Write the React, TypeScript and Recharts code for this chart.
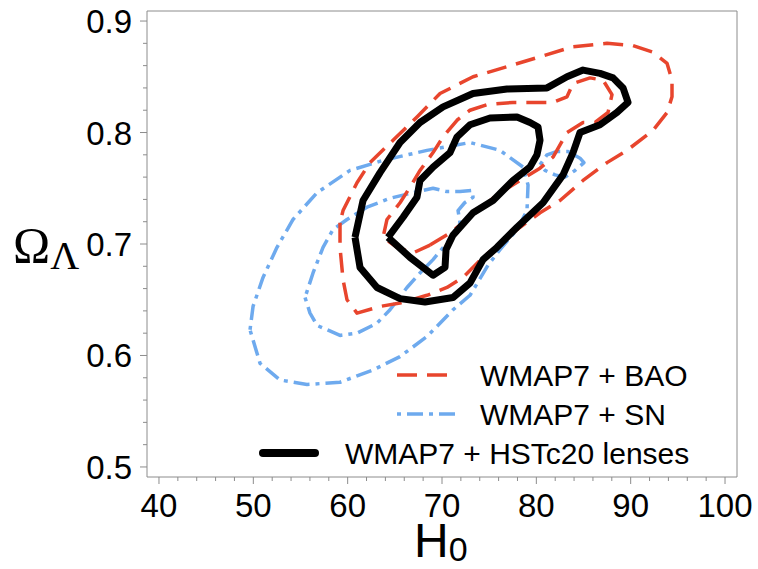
import React from "react";
import { ReferenceArea, Scatter, ScatterChart, XAxis, YAxis } from "recharts";

// contour vertices: [H0, Omega_Lambda]
const BAO_OUTER = [
  [59.19, 0.719], [59.19, 0.697], [59.51, 0.668], [59.93, 0.65], [60.99, 0.638], [63.43, 0.644],
  [65.55, 0.647], [68.41, 0.654], [70.53, 0.661], [72.23, 0.67], [74.35, 0.688], [77.95, 0.713],
  [80.39, 0.728], [82.51, 0.739], [84.95, 0.757], [87.49, 0.773], [89.61, 0.784], [92.37, 0.802],
  [93.86, 0.818], [94.38, 0.832], [94.38, 0.847], [93.86, 0.862], [92.37, 0.872], [90.25, 0.878],
  [87.49, 0.88], [83.89, 0.877], [80.39, 0.868], [76.89, 0.859], [73.29, 0.85], [69.79, 0.835],
  [67.35, 0.814], [64.81, 0.793], [62.37, 0.773], [60.99, 0.755], [59.51, 0.73], [59.19, 0.719],
];
const BAO_INNER = [
  [68.73, 0.699], [70.85, 0.71], [72.97, 0.724], [75.83, 0.744], [78.27, 0.757], [80.39, 0.768],
  [81.77, 0.778], [82.51, 0.789], [83.25, 0.8], [84.95, 0.809], [86.22, 0.809], [87.6, 0.818],
  [88.02, 0.834], [87.07, 0.847], [85.69, 0.849], [83.89, 0.844], [83.25, 0.832], [81.77, 0.827],
  [77.53, 0.827], [74.77, 0.825], [72.97, 0.82], [71.59, 0.811], [70.11, 0.796], [69.05, 0.782],
  [67.67, 0.766], [66.61, 0.751], [65.55, 0.737], [64.17, 0.722], [63.75, 0.706], [65.23, 0.697],
  [66.93, 0.692], [68.73, 0.699],
];
const SN_OUTER = [
  [49.65, 0.623], [49.97, 0.644], [51.03, 0.67], [52.51, 0.697], [54.21, 0.722], [56.75, 0.746],
  [60.25, 0.766], [63.75, 0.775], [68.41, 0.784], [72.97, 0.791], [76.15, 0.784], [78.59, 0.769],
  [79.12, 0.753], [79.01, 0.73], [77.95, 0.713], [76.15, 0.695], [74.88, 0.681], [72.97, 0.654],
  [71.17, 0.641], [68.41, 0.617], [65.55, 0.599], [62.69, 0.587], [59.19, 0.576], [55.69, 0.574],
  [52.83, 0.578], [50.71, 0.593], [49.65, 0.623],
];
const SN_ISLAND = [
  [80.39, 0.771], [81.13, 0.78], [82.19, 0.783], [83.36, 0.783], [84.63, 0.777], [85.05, 0.773],
  [84.1, 0.766], [83.04, 0.76], [81.98, 0.762], [80.92, 0.766], [80.39, 0.771],
];
const SN_INNER = [
  [55.48, 0.652], [56.01, 0.638], [56.75, 0.627], [59.19, 0.618], [60.99, 0.62], [63.11, 0.629],
  [64.49, 0.641], [66.29, 0.661], [67.67, 0.674], [69.05, 0.686], [70.53, 0.701], [71.91, 0.719],
  [71.7, 0.73], [72.4, 0.737], [73.29, 0.742], [73.18, 0.748], [71.91, 0.747], [70.53, 0.747],
  [69.05, 0.75], [66.93, 0.746], [64.49, 0.741], [62.05, 0.733], [59.93, 0.722], [58.45, 0.713],
  [57.39, 0.697], [56.33, 0.674], [55.48, 0.652],
];
const HST_OUTER = [
  [60.78, 0.706], [61.31, 0.679], [63.11, 0.661], [65.55, 0.651], [68.2, 0.648], [71.17, 0.652],
  [72.97, 0.665], [74.35, 0.686], [75.83, 0.697], [77.95, 0.715], [80.71, 0.737], [82.83, 0.762],
  [83.89, 0.782], [84.63, 0.8], [86.75, 0.807], [88.55, 0.818], [89.72, 0.827], [89.19, 0.84],
  [88.13, 0.849], [86.75, 0.853], [84.95, 0.856], [83.25, 0.85], [81.13, 0.84], [76.89, 0.839],
  [73.29, 0.835], [70.11, 0.823], [67.67, 0.809], [65.55, 0.791], [63.43, 0.764], [61.63, 0.739],
  [60.78, 0.706],
];
const HST_INNER = [
  [64.28, 0.706], [66.61, 0.688], [69.05, 0.672], [70.32, 0.679], [70.43, 0.695], [71.17, 0.708],
  [73.29, 0.728], [75.41, 0.739], [77.53, 0.757], [79.33, 0.769], [80.07, 0.78], [80.39, 0.793],
  [80.18, 0.805], [79.33, 0.809], [77.95, 0.814], [75.09, 0.813], [72.97, 0.807], [71.59, 0.796],
  [70.85, 0.782], [69.05, 0.769], [67.67, 0.757], [67.35, 0.742], [65.87, 0.724], [64.28, 0.706],
];

const X_MAJOR = [40, 50, 60, 70, 80, 90, 100];
const Y_MAJOR = [0.5, 0.6, 0.7, 0.8, 0.9];
const X_DOMAIN = [38.73, 101.27];
const Y_DOMAIN = [0.491, 0.909];

const LABEL_BAO = "WMAP7 + BAO";
const LABEL_SN = "WMAP7 + SN";
const LABEL_HST = "WMAP7 + HSTc20 lenses";

const RED = "#e8452d";
const BLUE = "#6eaaee";
const FONT = "'Liberation Sans', Arial, Helvetica, sans-serif";
const TICK_GRAY = "#8c8c8c";

const STYLE = {
  bao: { stroke: RED, strokeWidth: 3.5, strokeDasharray: "20 10" },
  sn: { stroke: BLUE, strokeWidth: 3.5, strokeDasharray: "4 6 16 6" },
  hst: { stroke: "#000", strokeWidth: 7, strokeDasharray: undefined },
};

const CONTOURS = [
  { id: "sn-outer", pts: SN_OUTER, style: STYLE.sn },
  { id: "sn-island", pts: SN_ISLAND, style: STYLE.sn },
  { id: "sn-inner", pts: SN_INNER, style: STYLE.sn },
  { id: "bao-outer", pts: BAO_OUTER, style: STYLE.bao },
  { id: "bao-inner", pts: BAO_INNER, style: STYLE.bao },
  { id: "hst-outer", pts: HST_OUTER, style: STYLE.hst },
  { id: "hst-inner", pts: HST_INNER, style: STYLE.hst },
];

// minor ticks every 2 in H0 and 0.02 in Omega
const xTicks: number[] = [];
for (let v = 40; v <= 100; v += 2) xTicks.push(v);
const yTicks: number[] = [];
for (let i = 0; i <= 20; i++) yTicks.push(Math.round((0.5 + i * 0.02) * 100) / 100);

const isMajorX = (v: number) => X_MAJOR.includes(v);
const isMajorY = (v: number) => Y_MAJOR.some((m) => Math.abs(m - v) < 1e-6);

function XTick(props: any) {
  const { x, y, payload } = props;
  const major = isMajorX(payload.value);
  return (
    <g>
      <line x1={x} x2={x} y1={y} y2={y + (major ? 7 : 4)} stroke={TICK_GRAY} strokeWidth={1} />
      {major && (
        <text x={x} y={y + 40} textAnchor="middle" fontSize={33} fontFamily={FONT} fill="#000">
          {payload.value}
        </text>
      )}
    </g>
  );
}

function YTick(props: any) {
  const { x, y, payload } = props;
  const major = isMajorY(payload.value);
  return (
    <g>
      <line x1={x} x2={x - (major ? 7 : 4)} y1={y} y2={y} stroke={TICK_GRAY} strokeWidth={1} />
      {major && (
        <text x={x - 15} y={y + 12} textAnchor="end" fontSize={33} fontFamily={FONT} fill="#000">
          {payload.value.toFixed(1)}
        </text>
      )}
    </g>
  );
}

const noDot = () => <g />;

const LEGEND = [
  { label: LABEL_BAO, style: STYLE.bao, x1: 397, x2: 449, tx: 480, y: 375 },
  { label: LABEL_SN, style: STYLE.sn, x1: 397, x2: 455, tx: 480, y: 414 },
  { label: LABEL_HST, style: { ...STYLE.hst, strokeWidth: 8 }, x1: 263, x2: 315, tx: 345, y: 453 },
];

export default function App() {
  return (
    <div style={{ position: "absolute", left: 0, top: 0, width: 758, height: 569, background: "#fff" }}>
      <ScatterChart width={758} height={569} margin={{ top: 11, right: 21, bottom: 0, left: 0 }}>
        <XAxis
          type="number"
          dataKey="x"
          domain={X_DOMAIN}
          ticks={xTicks}
          interval={0}
          tickSize={0}
          tickMargin={0}
          axisLine={false}
          tickLine={false}
          height={92}
          tick={(p: any) => <XTick {...p} />}
          allowDataOverflow
        />
        <YAxis
          type="number"
          dataKey="y"
          domain={Y_DOMAIN}
          ticks={yTicks}
          interval={0}
          tickSize={0}
          tickMargin={0}
          axisLine={false}
          tickLine={false}
          width={147}
          tick={(p: any) => <YTick {...p} />}
          allowDataOverflow
        />
        <ReferenceArea
          x1={X_DOMAIN[0]}
          x2={X_DOMAIN[1]}
          y1={Y_DOMAIN[0]}
          y2={Y_DOMAIN[1]}
          fill="none"
          stroke={TICK_GRAY}
          strokeWidth={1}
        />
        {CONTOURS.map((c) => (
          <Scatter
            key={c.id}
            data={c.pts.map(([x, y]) => ({ x, y }))}
            fill={c.style.stroke}
            line={{
              stroke: c.style.stroke,
              strokeWidth: c.style.strokeWidth,
              strokeDasharray: c.style.strokeDasharray,
              strokeLinejoin: "round",
              fill: "none",
            }}
            lineType="joint"
            shape={noDot}
            isAnimationActive={false}
          />
        ))}
      </ScatterChart>
      <svg
        width={758}
        height={569}
        style={{ position: "absolute", left: 0, top: 0, pointerEvents: "none" }}
      >
        <text x={13} y={262} fontFamily="'Liberation Serif', 'Times New Roman', serif" fontSize={50} fill="#000">
          Ω
          <tspan fontSize={40} dy={7}>Λ</tspan>
        </text>
        <text x={414} y={557} fontFamily={FONT} fontSize={48} fill="#000">
          H
          <tspan fontSize={34} dy={4}>0</tspan>
        </text>
        {LEGEND.map((l) => (
          <g key={l.label}>
            <line
              x1={l.x1}
              x2={l.x2}
              y1={l.y}
              y2={l.y}
              stroke={l.style.stroke}
              strokeWidth={l.style.strokeWidth}
              strokeDasharray={l.style.strokeDasharray}
              strokeLinecap={l.style.strokeDasharray ? "butt" : "round"}
            />
            <text x={l.tx} y={l.y + 11} fontFamily={FONT} fontSize={30} fill="#000">
              {l.label}
            </text>
          </g>
        ))}
      </svg>
    </div>
  );
}
